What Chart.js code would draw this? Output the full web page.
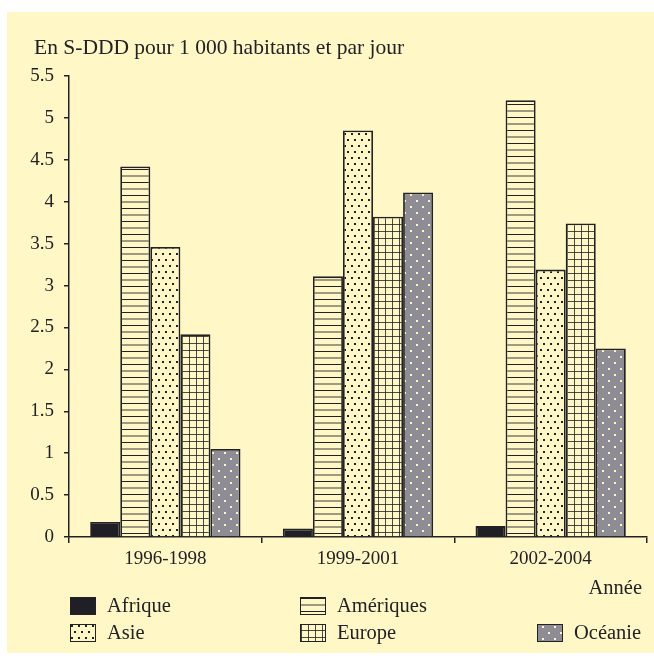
<!DOCTYPE html>
<html>
<head>
<meta charset="utf-8">
<script src="https://cdn.jsdelivr.net/npm/chart.js@4.4.0/dist/chart.umd.min.js"></script>
<style>
  html, body { margin: 0; padding: 0; background: #ffffff; }
  #wrap { width: 654px; height: 664px; }
</style>
</head>
<body>
<div id="wrap"><canvas id="myChart" width="654" height="664"></canvas></div>
<script>
// valeurs
var annees = ["1996-1998", "1999-2001", "2002-2004"];
var afrique = [0.18, 0.10, 0.13];
var ameriques = [4.42, 3.11, 5.21];
var asie = [3.46, 4.85, 3.19];
var europe = [2.42, 3.82, 3.74];
var oceanie = [1.05, 4.11, 2.25];
var yTicks = [0, 0.5, 1, 1.5, 2, 2.5, 3, 3.5, 4, 4.5, 5, 5.5];

var creme = "#fff8c6";
var fonce = "#222226";
var police = "'Liberation Serif', 'Times New Roman', serif";

// motifs de remplissage
function motif(w, h, dessin) {
  var c = document.createElement("canvas");
  c.width = w; c.height = h;
  var g = c.getContext("2d");
  dessin(g);
  return g.createPattern(c, "repeat");
}
var motifAmeriques = motif(8, 13, function (g) {
  g.fillStyle = creme; g.fillRect(0, 0, 8, 13);
  g.fillStyle = fonce; g.fillRect(0, 0, 8, 1);
  g.fillStyle = "rgba(40,40,40,0.45)"; g.fillRect(0, 6, 8, 2);
});
var motifAsie = motif(14, 12, function (g) {
  g.fillStyle = creme; g.fillRect(0, 0, 14, 12);
  g.fillStyle = fonce;
  g.fillRect(1, 1, 2, 2); g.fillRect(8, 1, 2, 2);
  g.fillRect(4, 7, 2, 2); g.fillRect(11, 7, 2, 2);
});
var motifEurope = motif(7, 7, function (g) {
  g.fillStyle = creme; g.fillRect(0, 0, 7, 7);
  g.fillStyle = "rgba(30,30,30,0.8)";
  g.fillRect(0, 0, 7, 1); g.fillRect(0, 0, 1, 7);
});
var motifOceanie = motif(12, 12, function (g) {
  g.fillStyle = "#8e8d96"; g.fillRect(0, 0, 12, 12);
  g.fillStyle = creme;
  g.fillRect(2, 2, 2, 2); g.fillRect(8, 8, 2, 2);
});

var noms = ["Afrique", "Amériques", "Asie", "Europe", "Océanie"];
var series = [afrique, ameriques, asie, europe, oceanie];
var remplissages = ["#1f1f25", motifAmeriques, motifAsie, motifEurope, motifOceanie];
// case de légende : colonne, ligne
var casesLegende = [[0, 0], [1, 0], [0, 1], [1, 1], [2, 1]];

var datasets = [];
for (var i = 0; i < noms.length; i++) {
  datasets.push({
    label: noms[i],
    data: series[i],
    backgroundColor: remplissages[i],
    borderColor: fonce,
    borderWidth: 1.8,
    categoryPercentage: 0.78,
    barPercentage: 1.0
  });
}

var decor = {
  id: "decor",
  beforeDraw: function (chart) {
    var ctx = chart.ctx;
    ctx.save();
    ctx.fillStyle = "#ffffff";
    ctx.fillRect(0, 0, chart.width, chart.height);
    ctx.fillStyle = creme;
    ctx.fillRect(7, 12, chart.width - 7, 641);
    ctx.restore();
  },
  afterDraw: function (chart) {
    var ctx = chart.ctx;
    ctx.save();
    ctx.fillStyle = fonce;
    ctx.font = "21.5px " + police;
    ctx.textBaseline = "middle";
    ctx.textAlign = "left";
    ctx.fillText("En S-DDD pour 1 000 habitants et par jour", 34, 48);
    ctx.font = "20.5px " + police;
    ctx.textAlign = "right";
    ctx.fillText("Année", 642, 589);
    // légende
    var colX = [70, 300, 537];
    var ligY = [606, 633];
    ctx.textAlign = "left";
    for (var i = 0; i < noms.length; i++) {
      var x = colX[casesLegende[i][0]];
      var y = ligY[casesLegende[i][1]];
      ctx.fillStyle = remplissages[i];
      ctx.fillRect(x, y - 9, 26, 18);
      ctx.strokeStyle = fonce;
      ctx.lineWidth = 1;
      ctx.strokeRect(x + 0.5, y - 8.5, 25, 17);
      ctx.fillStyle = fonce;
      ctx.fillText(noms[i], x + 37, y + 1);
    }
    ctx.restore();
  }
};

new Chart("myChart", {
  type: "bar",
  data: { labels: annees, datasets: datasets },
  plugins: [decor],
  options: {
    responsive: false,
    animation: false,
    layout: { padding: { left: 0, top: 76, right: 7, bottom: 87 } },
    plugins: { legend: { display: false }, title: { display: false }, tooltip: { enabled: false } },
    scales: {
      x: {
        offset: true,
        grid: { display: true, offset: true, drawOnChartArea: false, drawTicks: true, tickLength: 6, color: fonce, lineWidth: 1.5 },
        border: { display: true, color: fonce, width: 1.5 },
        ticks: { color: fonce, font: { family: police, size: 19 }, padding: 5 },
        afterFit: function (s) { s.height = 40; }
      },
      y: {
        min: 0,
        max: 5.5,
        afterBuildTicks: function (s) { s.ticks = yTicks.map(function (v) { return { value: v }; }); },
        grid: { display: true, drawOnChartArea: false, drawTicks: true, tickLength: 5, color: fonce, lineWidth: 1.5 },
        border: { display: true, color: fonce, width: 1.5 },
        ticks: {
          color: fonce, font: { family: police, size: 19 }, padding: 10,
          callback: function (v) { return String(v); }
        },
        afterFit: function (s) { s.width = 69; }
      }
    }
  }
});
</script>
</body>
</html>
